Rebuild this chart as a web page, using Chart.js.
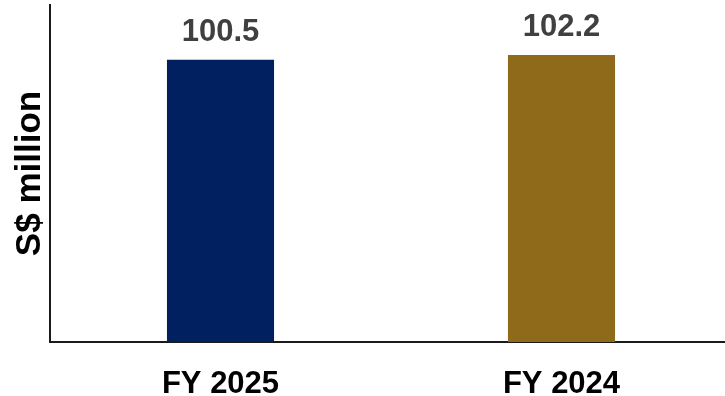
<!DOCTYPE html>
<html>
<head>
<meta charset="utf-8">
<script src="https://cdn.jsdelivr.net/npm/chart.js@4.4.1/dist/chart.umd.min.js"></script>
<style>
  html, body { margin: 0; padding: 0; background: #fff; }
  #wrap { width: 725px; height: 396px; }
</style>
</head>
<body>
<div id="wrap"><canvas id="chart" width="725" height="396"></canvas></div>
<script>
const categories = ['FY 2025', 'FY 2024'];
const revenue = [100.5, 102.2];
const barColors = ['#002060', '#8F6A1A'];

// value labels above each bar
const valueLabels = {
    id: 'valueLabels',
    afterDatasetsDraw(chart) {
        const ctx = chart.ctx;
        const meta = chart.getDatasetMeta(0);
        ctx.save();
        ctx.font = 'bold 31px "Liberation Sans", Arial, sans-serif';
        ctx.fillStyle = '#404040';
        ctx.textAlign = 'center';
        ctx.textBaseline = 'alphabetic';
        meta.data.forEach((bar, i) => {
            ctx.fillText(revenue[i].toFixed(1), bar.x, bar.y - 19);
        });
        ctx.restore();
    }
};

// the plot runs a little past the right edge in the original
const stretchX = {
    id: 'stretchX',
    afterLayout(chart) {
        const x = chart.scales.x;
        x.right += 7;
        x.width += 7;
        x.configure();
    }
};

new Chart(document.getElementById('chart').getContext('2d'), {
    type: 'bar',
    data: {
        labels: categories,
        datasets: [{
            data: revenue,
            backgroundColor: barColors,
            borderWidth: 0,
            barPercentage: 0.314,
            categoryPercentage: 1
        }]
    },
    options: {
        responsive: false,
        animation: false,
        layout: { padding: { top: 5, right: 0, bottom: 0, left: 0 } },
        plugins: {
            legend: { display: false },
            tooltip: { enabled: false }
        },
        scales: {
            x: {
                grid: { display: false },
                border: { display: true, color: '#1a1a1a', width: 2 },
                ticks: {
                    color: '#000',
                    padding: 16,
                    font: { family: '"Liberation Sans", Arial, sans-serif', size: 31, weight: 'bold' }
                },
                afterFit(scale) { scale.height = 54; }
            },
            y: {
                min: 0,
                max: 120,
                grid: { display: false },
                border: { display: true, color: '#1a1a1a', width: 2 },
                ticks: { display: false },
                title: {
                    display: true,
                    text: 'S$ million',
                    color: '#000',
                    padding: { top: 9, bottom: 0 },
                    font: { family: '"Liberation Sans", Arial, sans-serif', size: 35, weight: 'bold' }
                },
                afterFit(scale) { scale.width = 50; }
            }
        }
    },
    plugins: [valueLabels, stretchX]
});
</script>
</body>
</html>
